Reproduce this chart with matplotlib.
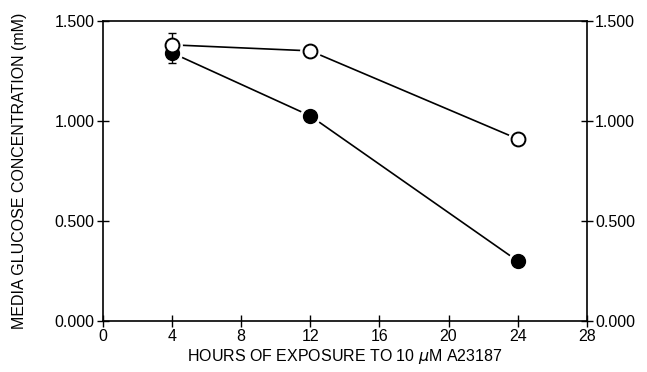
import numpy as np
import matplotlib
matplotlib.use("Agg")
import matplotlib.pyplot as plt

plt.rcParams['font.family'] = ['Liberation Sans', 'DejaVu Sans']

# data
hours = [4, 12, 24]
open_vals = [1.38, 1.35, 0.91]
filled_vals = [1.34, 1.025, 0.30]
open_err_up = [0.06, 0, 0]
filled_err_dn = [0.05, 0, 0]

xticks = [0, 4, 8, 12, 16, 20, 24, 28]
yticks = [0.0, 0.5, 1.0, 1.5]

fig = plt.figure(figsize=(6.47, 3.72), dpi=100)
ax = fig.add_axes([0.159, 0.137, 0.748, 0.807])

# lines, then a white halo so the lines stop short of the symbols
ax.plot(hours, open_vals, color='black', lw=1.2, zorder=1)
ax.plot(hours, filled_vals, color='black', lw=1.2, zorder=1)
ax.plot(hours, open_vals, ls='none', marker='o', ms=15, mfc='white', mec='none', zorder=1.5)
ax.plot(hours, filled_vals, ls='none', marker='o', ms=15, mfc='white', mec='none', zorder=1.5)

# error bars (only at the first point)
ax.errorbar(hours[:1], open_vals[:1], yerr=[[0], open_err_up[:1]], fmt='none',
            ecolor='black', elinewidth=1, capsize=3, capthick=1, zorder=2)
ax.errorbar(hours[:1], filled_vals[:1], yerr=[filled_err_dn[:1], [0]], fmt='none',
            ecolor='black', elinewidth=1, capsize=3, capthick=1, zorder=2)

ax.plot(hours, filled_vals, ls='none', marker='o', ms=10,
        mfc='black', mec='black', zorder=3)
ax.plot(hours, open_vals, ls='none', marker='o', ms=10,
        mfc='white', mec='black', mew=1.4, zorder=4)

ax.set_xlim(0, 28)
ax.set_ylim(0, 1.5)
ax.set_xticks(xticks)
ax.set_yticks(yticks)
ax.set_yticklabels(['%.3f' % v for v in yticks])
ax.tick_params(direction='inout', length=8, width=1, labelsize=11.5, pad=2)
ax.tick_params(axis='y', right=True, labelright=True)

for s in ax.spines.values():
    s.set_linewidth(1.2)

ax.set_xlabel('HOURS OF EXPOSURE TO 10 $\\mu$M A23187', fontsize=11.5, labelpad=2)
ax.set_ylabel('MEDIA GLUCOSE CONCENTRATION (mM)', fontsize=11.5, labelpad=20)

fig.savefig('out.png', dpi=100)
